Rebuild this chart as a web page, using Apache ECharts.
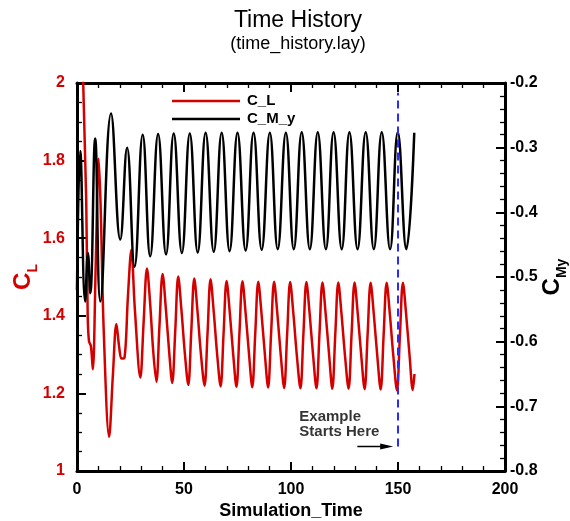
<!DOCTYPE html>
<html>
<head>
<meta charset="utf-8">
<script src="https://cdn.jsdelivr.net/npm/echarts@6/dist/echarts.min.js"></script>
<style>html,body{margin:0;padding:0;background:#fff;}#c{width:570px;height:521px;}</style>
</head>
<body>
<div id="c"></div>
<script>
// C_L history [Simulation_Time, C_L]
const clData = [
 [0,2.9],[2.9,2.0],[4.3,1.70],[5.0,1.40],[5.6,1.335],[6.5,1.322],[7.4,1.262],[8.7,1.52],[10.1,1.805],
 [11.0,1.69],[12.5,1.36],[15.0,1.088],[16.8,1.25],[18.4,1.379],[19.7,1.32],[20.8,1.29],[22.2,1.292],
 [23.8,1.45],[25.4,1.570],[27.0,1.42],[29.6,1.241],[31.1,1.38],[32.7,1.522],[34.2,1.43],[35.6,1.31],[37.1,1.230],
 [38.5,1.37],[40.0,1.508],[41.5,1.42],[43.1,1.305],[44.5,1.227],
 [45.9,1.36],[47.3,1.501],[48.8,1.415],[50.4,1.303],[52.0,1.222],
 [53.4,1.36],[54.8,1.496],[56.3,1.412],[57.9,1.302],[59.6,1.220],
 [61.0,1.355],[62.4,1.494],[63.9,1.41],[65.5,1.30],[67.1,1.218],
 [68.5,1.355],[69.9,1.490],[71.4,1.408],[73.0,1.30],[74.5,1.217],
 [75.9,1.355],[77.3,1.489],[78.8,1.407],[80.4,1.30],[81.9,1.216],
 [83.3,1.355],[84.7,1.488],[86.2,1.407],[87.8,1.30],[89.3,1.215],
 [90.7,1.355],[92.1,1.488],[93.6,1.407],[95.2,1.30],[96.8,1.214],
 [98.2,1.353],[99.6,1.487],[101.1,1.406],[102.7,1.30],[104.4,1.213],
 [105.8,1.353],[107.2,1.487],[108.7,1.406],[110.3,1.30],[111.9,1.213],
 [113.3,1.353],[114.7,1.486],[116.2,1.405],[117.8,1.30],[119.3,1.212],
 [120.7,1.353],[122.1,1.486],[123.6,1.405],[125.2,1.299],[126.9,1.212],
 [128.3,1.352],[129.7,1.486],[131.2,1.405],[132.8,1.299],[134.4,1.211],
 [135.8,1.352],[137.2,1.485],[138.7,1.404],[140.3,1.298],[141.9,1.210],
 [143.3,1.352],[144.7,1.485],[146.2,1.404],[147.8,1.298],[149.5,1.208],
 [150.9,1.35],[152.3,1.485],[153.8,1.404],[155.4,1.298],[156.9,1.209],
 [157.7,1.25]
];
// C_M_y history [Simulation_Time, C_My]
const cmyData = [
 [0,-0.52],[1.5,-0.305],[3.8,-0.538],[5.1,-0.463],[6.2,-0.525],[8.5,-0.286],[10.9,-0.538],
 [15.9,-0.247],[20.2,-0.442],[23.4,-0.300],[26.9,-0.484],[30.7,-0.280],[34.2,-0.468],
 [37.9,-0.279],[41.6,-0.465],[45.2,-0.278],[49.0,-0.463],[52.7,-0.278],[56.4,-0.462],
 [60.1,-0.277],[63.9,-0.461],[67.6,-0.277],[71.3,-0.460],[75.0,-0.277],[78.8,-0.459],
 [82.5,-0.277],[86.3,-0.458],[90.1,-0.277],[93.8,-0.457],[97.6,-0.277],[101.3,-0.457],
 [105.0,-0.276],[108.8,-0.457],[112.5,-0.276],[116.3,-0.457],[119.9,-0.276],[123.7,-0.457],
 [127.3,-0.276],[131.1,-0.457],[134.9,-0.276],[138.7,-0.457],[142.4,-0.276],[146.3,-0.457],
 [149.9,-0.276],[153.9,-0.457],[157.6,-0.277]
];
// annotation: dashed marker at start of example, arrow and text
const startMarker = [[150,1.063],[150,1.975]];
const arrowPts = [[131.0,1.063],[144.7,1.063]];
const noteAnchor = [103.9,1.119];
const noteText = 'Example\nStarts Here';
const xRange = [0,200], xStep = 50;
const clRange = [1,2], clStep = 0.2;
const cmyRange = [-0.8,-0.2], cmyStep = 0.1;

const RED = '#d40000';
const FONT = 'Liberation Sans';
const chart = echarts.init(document.getElementById('c'), null, {renderer:'canvas'});

function xAx(pos, labels){
  return {
    type:'value', position:pos, min:xRange[0], max:xRange[1], interval:xStep,
    axisLine:{show:true, onZero:false, lineStyle:{color:'#000', width:3}},
    axisTick:{show:true, inside:true, length:9, lineStyle:{color:'#000', width:2}},
    minorTick:{show:true, splitNumber:5, length:5, lineStyle:{color:'#000', width:1.3}},
    splitLine:{show:false}, minorSplitLine:{show:false},
    axisLabel:{show:labels, color:'#000', fontFamily:FONT, fontWeight:'bold', fontSize:16, margin:11},
    name: labels ? 'Simulation_Time' : '',
    nameLocation:'middle', nameGap:31, nameMoveOverlap:false,
    nameTextStyle:{color:'#000', fontFamily:FONT, fontWeight:'bold', fontSize:18}
  };
}

chart.setOption({
  animation:false,
  backgroundColor:'#fff',
  title:{
    text:'Time History', subtext:'(time_history.lay)',
    left:293, top:4, textAlign:'center', itemGap:3,
    textStyle:{color:'#000', fontFamily:FONT, fontWeight:'normal', fontSize:23},
    subtextStyle:{color:'#000', fontFamily:FONT, fontSize:18}
  },
  legend:{
    data:['C_L','C_M_y'], orient:'vertical', left:167, top:88,
    icon:'rect', itemWidth:68, itemHeight:2.5, itemGap:2,
    textStyle:{color:'#000', fontFamily:FONT, fontWeight:'bold', fontSize:15, lineHeight:16, padding:[0,0,0,2]}
  },
  grid:{left:77, right:65, top:83, bottom:50, containLabel:false, outerBoundsMode:'none'},
  xAxis:[xAx('bottom', true), xAx('top', false)],
  yAxis:[
    {
      type:'value', position:'left', min:clRange[0], max:clRange[1], interval:clStep,
      axisLine:{show:true, onZero:false, lineStyle:{color:'#000', width:3}},
      axisTick:{show:true, inside:true, length:9, lineStyle:{color:'#000', width:2}},
      minorTick:{show:true, splitNumber:4, length:5, lineStyle:{color:'#000', width:1.3}},
      splitLine:{show:false},
      axisLabel:{color:RED, fontFamily:FONT, fontWeight:'bold', fontSize:16, margin:12},
      name:'{a|C}{b|L}', nameLocation:'middle', nameRotate:90, nameGap:37, nameMoveOverlap:false,
      nameTextStyle:{rich:{
        a:{color:RED, fontFamily:FONT, fontWeight:'bold', fontSize:24, verticalAlign:'bottom', padding:[0,0,5,0]},
        b:{color:RED, fontFamily:FONT, fontWeight:'bold', fontSize:14, verticalAlign:'bottom'}
      }}
    },
    {
      type:'value', position:'right', min:cmyRange[0], max:cmyRange[1], interval:cmyStep,
      axisLine:{show:true, onZero:false, lineStyle:{color:'#000', width:3}},
      axisTick:{show:true, inside:true, length:9, lineStyle:{color:'#000', width:2}},
      minorTick:{show:true, splitNumber:5, length:5, lineStyle:{color:'#000', width:1.3}},
      splitLine:{show:false},
      axisLabel:{color:'#000', fontFamily:FONT, fontWeight:'bold', fontSize:16, margin:5},
      name:'{a|C}{b|My}', nameLocation:'middle', nameRotate:90, nameGap:35, nameMoveOverlap:false,
      nameTextStyle:{rich:{
        a:{color:'#000', fontFamily:FONT, fontWeight:'bold', fontSize:24, verticalAlign:'bottom', padding:[0,0,5,0]},
        b:{color:'#000', fontFamily:FONT, fontWeight:'bold', fontSize:14, verticalAlign:'bottom'}
      }}
    }
  ],
  series:[
    {name:'C_L', type:'line', xAxisIndex:0, yAxisIndex:0, data:clData, smooth:0.35, showSymbol:false, symbol:'none',
     lineStyle:{color:RED, width:2.5}, itemStyle:{color:RED}, z:3},
    {name:'C_M_y', type:'line', xAxisIndex:0, yAxisIndex:1, data:cmyData, smooth:0.45, showSymbol:false, symbol:'none',
     lineStyle:{color:'#000', width:2.5}, itemStyle:{color:'#000'}, z:3},
    {name:'start', type:'line', xAxisIndex:0, yAxisIndex:0, data:startMarker, symbol:'none', silent:true,
     lineStyle:{color:'#2b2bff', width:2, type:[8,5]}, z:4},
    {name:'arrow', type:'line', xAxisIndex:0, yAxisIndex:0, silent:true,
     data:[{value:arrowPts[0], symbol:'none'}, {value:arrowPts[1], symbol:'triangle', symbolSize:[6,13], symbolRotate:-90}],
     showSymbol:true, lineStyle:{color:'#000', width:1.5}, itemStyle:{color:'#000'}, z:4},
    {name:'note', type:'scatter', xAxisIndex:0, yAxisIndex:0, data:[noteAnchor], symbolSize:0, silent:true,
     label:{show:true, position:'right', distance:0, formatter:noteText, color:'#000', fontFamily:FONT,
            fontWeight:'bold', fontSize:15, lineHeight:15, align:'left'}}
  ]
});
</script>
</body>
</html>
